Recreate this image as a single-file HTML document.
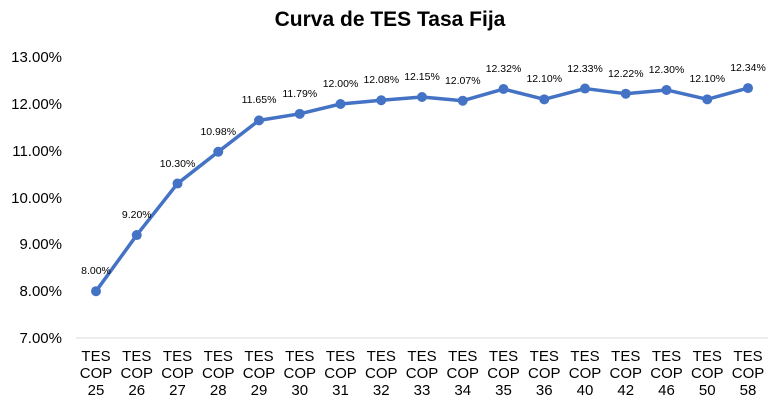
<!DOCTYPE html>
<html><head><meta charset="utf-8"><style>
body{margin:0;background:#fff}
svg{display:block}
text{font-family:"Liberation Sans",sans-serif;fill:#000}
</style></head><body>
<svg width="780" height="410" xmlns="http://www.w3.org/2000/svg">
<text x="390" y="26" text-anchor="middle" font-size="21" font-weight="bold">Curva de TES Tasa Fija</text>
<g font-size="15" text-anchor="end">
<text x="62" y="62">13.00%</text>
<text x="62" y="109">12.00%</text>
<text x="62" y="156">11.00%</text>
<text x="62" y="203">10.00%</text>
<text x="62" y="249">9.00%</text>
<text x="62" y="296">8.00%</text>
<text x="62" y="343">7.00%</text>
</g>
<line x1="76" y1="338" x2="768" y2="338" stroke="#d9d9d9" stroke-width="1"/>
<polyline points="96,291.2 136.75,235.04 177.5,183.56 218.25,151.74 259,120.38 299.75,113.83 340.5,104 381.25,100.26 422,96.98 462.75,100.72 503.5,89.02 544.25,99.32 585,88.56 625.75,93.7 666.5,89.96 707.25,99.32 748,88.09" fill="none" stroke="#4472c4" stroke-width="3.5" stroke-linejoin="round"/>
<g fill="#4472c4">
<circle cx="96" cy="291.2" r="5"/><circle cx="136.75" cy="235.04" r="5"/><circle cx="177.5" cy="183.56" r="5"/><circle cx="218.25" cy="151.74" r="5"/><circle cx="259" cy="120.38" r="5"/><circle cx="299.75" cy="113.83" r="5"/><circle cx="340.5" cy="104" r="5"/><circle cx="381.25" cy="100.26" r="5"/><circle cx="422" cy="96.98" r="5"/><circle cx="462.75" cy="100.72" r="5"/><circle cx="503.5" cy="89.02" r="5"/><circle cx="544.25" cy="99.32" r="5"/><circle cx="585" cy="88.56" r="5"/><circle cx="625.75" cy="93.7" r="5"/><circle cx="666.5" cy="89.96" r="5"/><circle cx="707.25" cy="99.32" r="5"/><circle cx="748" cy="88.09" r="5"/>
</g>
<g font-size="10.5" text-anchor="middle">
<text x="96" y="274">8.00%</text><text x="136.75" y="218">9.20%</text><text x="177.5" y="167">10.30%</text><text x="218.25" y="135">10.98%</text><text x="259" y="103">11.65%</text><text x="299.75" y="97">11.79%</text><text x="340.5" y="87">12.00%</text><text x="381.25" y="83">12.08%</text><text x="422" y="80">12.15%</text><text x="462.75" y="84">12.07%</text><text x="503.5" y="72">12.32%</text><text x="544.25" y="82">12.10%</text><text x="585" y="72">12.33%</text><text x="625.75" y="77">12.22%</text><text x="666.5" y="73">12.30%</text><text x="707.25" y="82">12.10%</text><text x="748" y="71">12.34%</text>
</g>
<g font-size="15" text-anchor="middle">
<text x="96" y="361">TES</text><text x="96" y="378">COP</text><text x="96" y="395">25</text>
<text x="136.75" y="361">TES</text><text x="136.75" y="378">COP</text><text x="136.75" y="395">26</text>
<text x="177.5" y="361">TES</text><text x="177.5" y="378">COP</text><text x="177.5" y="395">27</text>
<text x="218.25" y="361">TES</text><text x="218.25" y="378">COP</text><text x="218.25" y="395">28</text>
<text x="259" y="361">TES</text><text x="259" y="378">COP</text><text x="259" y="395">29</text>
<text x="299.75" y="361">TES</text><text x="299.75" y="378">COP</text><text x="299.75" y="395">30</text>
<text x="340.5" y="361">TES</text><text x="340.5" y="378">COP</text><text x="340.5" y="395">31</text>
<text x="381.25" y="361">TES</text><text x="381.25" y="378">COP</text><text x="381.25" y="395">32</text>
<text x="422" y="361">TES</text><text x="422" y="378">COP</text><text x="422" y="395">33</text>
<text x="462.75" y="361">TES</text><text x="462.75" y="378">COP</text><text x="462.75" y="395">34</text>
<text x="503.5" y="361">TES</text><text x="503.5" y="378">COP</text><text x="503.5" y="395">35</text>
<text x="544.25" y="361">TES</text><text x="544.25" y="378">COP</text><text x="544.25" y="395">36</text>
<text x="585" y="361">TES</text><text x="585" y="378">COP</text><text x="585" y="395">40</text>
<text x="625.75" y="361">TES</text><text x="625.75" y="378">COP</text><text x="625.75" y="395">42</text>
<text x="666.5" y="361">TES</text><text x="666.5" y="378">COP</text><text x="666.5" y="395">46</text>
<text x="707.25" y="361">TES</text><text x="707.25" y="378">COP</text><text x="707.25" y="395">50</text>
<text x="748" y="361">TES</text><text x="748" y="378">COP</text><text x="748" y="395">58</text>
</g>
</svg>
</body></html>
